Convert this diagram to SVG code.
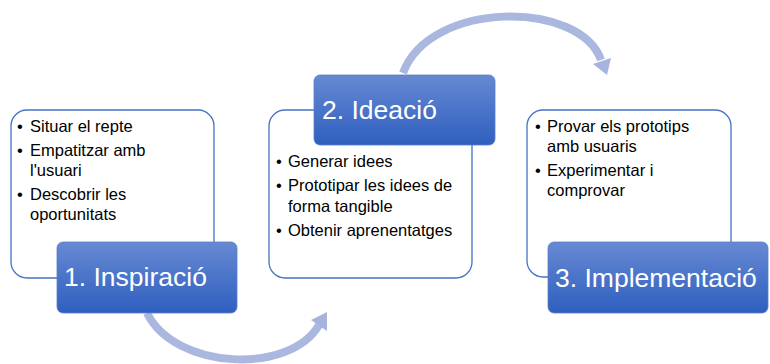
<svg xmlns="http://www.w3.org/2000/svg" width="770" height="364" viewBox="0 0 770 364">
<defs>
<linearGradient id="bg" x1="0" y1="0" x2="0" y2="1">
<stop offset="0" stop-color="#6789d2"/>
<stop offset="0.5" stop-color="#4a74c9"/>
<stop offset="1" stop-color="#2f5fbf"/>
</linearGradient>
<style>
.card{fill:#ffffff;stroke:#4472c4;stroke-width:1.3}
.head{fill:url(#bg);stroke:#5b7fcc;stroke-width:0.8}
.ht{font-family:"Liberation Sans",Arial,sans-serif;font-size:26.5px;fill:#ffffff}
.bt{font-family:"Liberation Sans",Arial,sans-serif;font-size:16.5px;fill:#000000}
.arc{fill:none;stroke:#aab7df;stroke-width:8}
.ah{fill:#a6b3dc}
</style>
</defs>
<g id="connectors">
<path class="arc" d="M147,313 C175,370 290,375 319,325"/>
<polygon class="ah" points="327,312 311,320 327,331"/>
<path class="arc" d="M403,73 C430,0 580,0 601,60"/>
<polygon class="ah" points="607,75 593,64 611,58"/>
</g>
<g id="node1">
<rect class="card" x="11" y="110" width="203" height="168" rx="16"/>
<text class="bt"><tspan x="17" y="132">•</tspan><tspan x="30" y="132">Situar el repte</tspan><tspan x="17" y="156">•</tspan><tspan x="30" y="156">Empatitzar amb</tspan><tspan x="30" y="176">l'usuari</tspan><tspan x="17" y="200">•</tspan><tspan x="30" y="200">Descobrir les</tspan><tspan x="30" y="220">oportunitats</tspan></text>
</g>
<g id="head1">
<rect class="head" x="57" y="242" width="180" height="71" rx="6"/>
<text class="ht" x="64" y="286">1. Inspiració</text>
</g>
<g id="node2">
<rect class="card" x="269" y="110" width="203" height="168" rx="16"/>
<text class="bt"><tspan x="276" y="167">•</tspan><tspan x="288" y="167">Generar idees</tspan><tspan x="276" y="191">•</tspan><tspan x="288" y="191">Prototipar les idees de</tspan><tspan x="288" y="212">forma tangible</tspan><tspan x="276" y="236">•</tspan><tspan x="288" y="236">Obtenir aprenentatges</tspan></text>
</g>
<g id="head2">
<rect class="head" x="314" y="75" width="181" height="70" rx="6"/>
<text class="ht" x="322" y="119">2. Ideació</text>
</g>
<g id="node3">
<rect class="card" x="527" y="110" width="204" height="167" rx="16"/>
<text class="bt"><tspan x="535" y="132">•</tspan><tspan x="547" y="132">Provar els prototips</tspan><tspan x="547" y="152">amb usuaris</tspan><tspan x="535" y="176">•</tspan><tspan x="547" y="176">Experimentar i</tspan><tspan x="547" y="196">comprovar</tspan></text>
</g>
<g id="head3">
<rect class="head" x="548" y="242" width="220" height="71" rx="6"/>
<text class="ht" x="555" y="287">3. Implementació</text>
</g>
</svg>
